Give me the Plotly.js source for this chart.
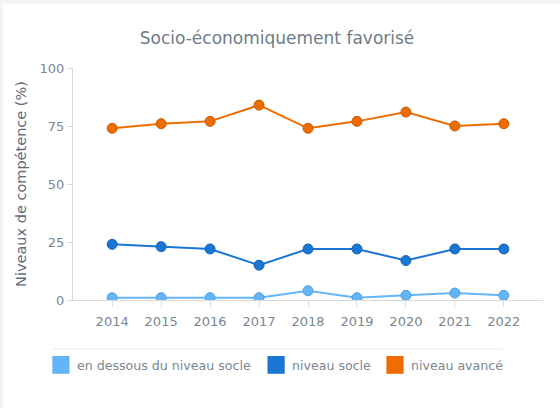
<!DOCTYPE html>
<html>
<head>
<meta charset="utf-8">
<script src="https://cdn.plot.ly/plotly-3.0.1.min.js"></script>
<style>
  html, body { margin: 0; padding: 0; background: #f4f4f4; width: 560px; height: 408px; overflow: hidden; }
  #chart { position: absolute; left: 3px; top: 4px; width: 557px; height: 404px; background: #fff; }
</style>
</head>
<body>
<div id="chart"></div>
<script>
const years = ["2014","2015","2016","2017","2018","2019","2020","2021","2022"];
const belowBasic = [1, 1, 1, 1, 4, 1, 2, 3, 2];
const basicLevel = [24, 23, 22, 15, 22, 22, 17, 22, 22];
const advancedLevel = [74, 76, 77, 84, 74, 77, 81, 75, 76];
const seriesNames = ["en dessous du niveau socle", "niveau socle", "niveau avancé"];
const seriesColors = ["#64b5f6", "#1976d2", "#ef6c00"];
const markerLines = ["#4f9fe0", "#1562b8", "#c85a00"];
const chartTitle = "Socio-économiquement favorisé";
const yTitle = "Niveaux de compétence (%)";
const yTicks = [0, 25, 50, 75, 100];

const FONT = "DejaVu Sans, Verdana, sans-serif";
const seriesValues = [belowBasic, basicLevel, advancedLevel];

const traces = seriesValues.map((vals, i) => ({
  type: "scatter",
  mode: "lines+markers",
  x: years,
  y: vals,
  name: seriesNames[i],
  line: { color: seriesColors[i], width: 2 },
  marker: { color: seriesColors[i], size: 10, line: { color: markerLines[i], width: 1 } },
  cliponaxis: true,
  showlegend: false
}));

// plot area in page pixels: x 73..543, y 68..300 ; div offset (3,4)
const px = x => (x - 73) / 470;
const py = y => (300 - y) / 232;

const shapes = [
  { type: "line", xref: "paper", yref: "paper", x0: px(52.5), x1: px(503), y0: py(349), y1: py(349),
    line: { color: "#e9e9e9", width: 1 } }
];
const swatchX = [52.3, 267.5, 386.4];
const textX = [75, 289.5, 408.5];
const annotations = [];
seriesNames.forEach((n, i) => {
  shapes.push({ type: "rect", xref: "paper", yref: "paper",
    x0: px(swatchX[i]), x1: px(swatchX[i] + 17.2), y0: py(373.8), y1: py(356),
    fillcolor: seriesColors[i], line: { width: 0 } });
  annotations.push({ xref: "paper", yref: "paper", x: px(textX[i]), y: py(365),
    xanchor: "left", yanchor: "middle", showarrow: false, text: n,
    font: { family: FONT, size: 12.6, color: "#7b8692" } });
});

const layout = {
  width: 557, height: 404,
  paper_bgcolor: "#ffffff", plot_bgcolor: "#ffffff",
  margin: { l: 70, r: 17, t: 64, b: 108 },
  showlegend: false,
  title: { text: chartTitle, xref: "container", yref: "container", x: 0.492, y: 1 - 34 / 404,
    xanchor: "center", yanchor: "middle", font: { family: FONT, size: 17, color: "#6f7c89" } },
  xaxis: {
    type: "category", range: [-0.8, 8.8], tickvals: years, ticktext: years,
    showgrid: false, zeroline: false, showline: true, linecolor: "#d9d9d9", linewidth: 1,
    ticks: "outside", ticklen: 6, tickcolor: "#d9d9d9", ticklabelstandoff: 3,
    tickfont: { family: FONT, size: 13, color: "#7b8692" }, fixedrange: true
  },
  yaxis: {
    range: [0, 100], tickvals: yTicks, ticktext: yTicks.map(String),
    showgrid: false, zeroline: false, showline: true, linecolor: "#d9d9d9", linewidth: 1,
    ticks: "outside", ticklen: 5, tickcolor: "#d9d9d9",
    tickfont: { family: FONT, size: 13, color: "#7b8692" },
    title: { text: yTitle, standoff: 9, font: { family: FONT, size: 14.5, color: "#5f6b78" } },
    fixedrange: true
  },
  shapes: shapes,
  annotations: annotations
};

Plotly.newPlot("chart", traces, layout, { displayModeBar: false, staticPlot: true });
</script>
</body>
</html>
